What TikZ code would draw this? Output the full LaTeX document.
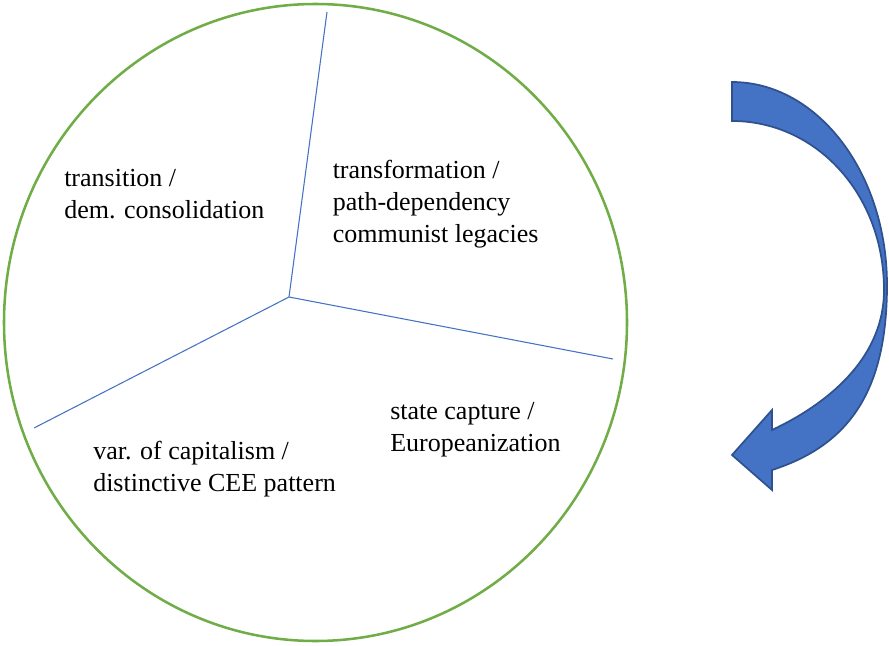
\documentclass[tikz,border=0pt]{standalone}
\usepackage{fontspec}
\setmainfont{Liberation Serif}
\definecolor{ringgreen}{HTML}{70AD47}
\definecolor{spokeblue}{HTML}{4472C4}
\definecolor{arrowfill}{HTML}{4472C4}
\definecolor{arrowline}{HTML}{2F528F}
\tikzset{
  ring/.style={draw=ringgreen, line width=1.9pt},
  spoke/.style={draw=spokeblue, line width=0.8pt},
  label/.style={anchor=base west, align=left, inner sep=0pt, font=\fontsize{19.5}{23.8}\selectfont},
  bigarrow/.style={fill=arrowfill, draw=arrowline, line width=1.3pt, line join=miter}
}
\begin{document}
\begin{tikzpicture}[x=0.75pt,y=-0.75pt]
\useasboundingbox (0,0) rectangle (889,646);
\draw[ring] (315.5,322.5) ellipse [x radius=311.5, y radius=318.5];
\coordinate (c) at (289,297);
\coordinate (e1) at (327,12);
\coordinate (e2) at (613,359);
\coordinate (e3) at (34,428);
\draw[spoke] (c) -- (e1);
\draw[spoke] (c) -- (e2);
\draw[spoke] (c) -- (e3);
\node[label] (t1) at (64,218.3) {transition /\\dem. consolidation};
\node[label] (t2) at (332.5,242) {transformation /\\path-dependency\\communist legacies};
\node[label] (t3) at (390,451.7) {state capture /\\Europeanization};
\node[label] (t4) at (93,491) {var. of capitalism /\\distinctive CEE pattern};
\draw[bigarrow] (732,82) .. controls (817.6,82) and (887,173) .. (887,285)
  .. controls (887,390) and (850,445) .. (772,470)
  -- (772,490) -- (732,455) -- (772,410) -- (772,430)
  .. controls (825,405) and (884,360) .. (884,290)
  .. controls (884,194) and (816,121) .. (732,121) -- cycle;
\end{tikzpicture}
\end{document}
